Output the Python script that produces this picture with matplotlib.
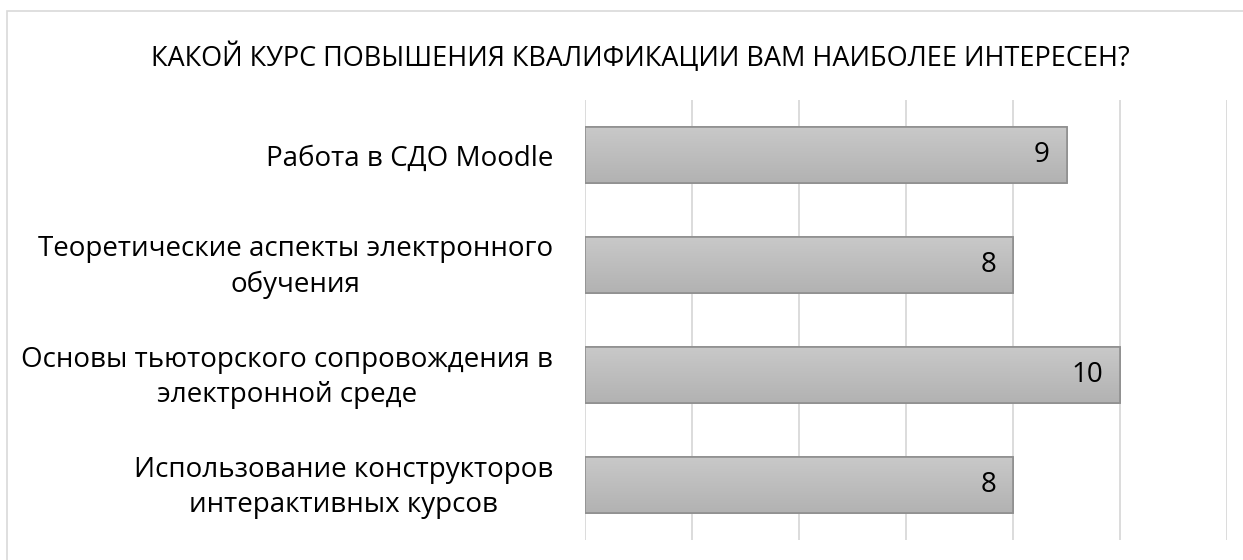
import matplotlib.pyplot as plt
import numpy as np
from matplotlib.patches import Rectangle

plt.rcParams['font.family'] = ['Open Sans', 'DejaVu Sans']

title = 'КАКОЙ КУРС ПОВЫШЕНИЯ КВАЛИФИКАЦИИ ВАМ НАИБОЛЕЕ ИНТЕРЕСЕН?'
courses = ['Работа в СДО Moodle',
           'Теоретические аспекты электронного\nобучения',
           'Основы тьюторского сопровождения в\nэлектронной среде',
           'Использование конструкторов\nинтерактивных курсов']
votes = [9, 8, 10, 8]

W, H = 1243, 560
fig = plt.figure(figsize=(W / 100, H / 100), dpi=100)
ax = fig.add_axes([585 / W, 1 - 540 / H, (1227 - 585) / W, 440 / H])

# outer chart border
fig.patches.append(Rectangle((7 / W, -0.01), 1.05, 1 - 11 / H + 0.01,
                             transform=fig.transFigure, fill=False,
                             edgecolor='#d9d9d9', linewidth=1.2))

y = np.arange(len(courses))
bars = ax.barh(y, votes, height=0.51, color='#bebebe', edgecolor='#8f8f8f',
               linewidth=1.2, zorder=3)

# vertical gradient inside each bar
cm = plt.matplotlib.colors.LinearSegmentedColormap.from_list('g', ['#c9c9c9', '#b2b2b2'])
grad = np.linspace(0, 1, 100).reshape(-1, 1)
for b in bars:
    x0, y0 = b.get_x(), b.get_y()
    im = ax.imshow(grad, cmap=cm, aspect='auto',
                   extent=(x0, x0 + b.get_width(), y0 + b.get_height(), y0), zorder=3.5)
    im.set_clip_path(b)
    ax.add_patch(Rectangle((x0, y0), b.get_width(), b.get_height(), fill=False,
                           edgecolor='#8f8f8f', linewidth=1.2, zorder=4))

for yi, v in zip(y, votes):
    ax.annotate(str(v), (v, yi), xytext=(-12, 0), textcoords='offset points',
                ha='right', va='center', fontsize=20, color='#000000', zorder=5)

# category labels (multi-line ones nudged up a little)
for yi, lab in zip(y, courses):
    dy = 3.5 if '\n' in lab else 0
    ax.annotate(lab, (0, yi), xytext=(-23, dy), textcoords='offset points',
                ha='right', va='center_baseline', multialignment='center',
                linespacing=1.35, fontsize=20, color='#000000',
                annotation_clip=False)

ax.set_xlim(0, 12)
ax.set_ylim(len(courses) - 0.5, -0.5)
ax.set_xticks(np.arange(0, 13, 2))
ax.set_xticklabels([])
ax.set_yticks([])
ax.tick_params(length=0)
ax.grid(axis='x', color='#d9d9d9', linewidth=1.3, zorder=0)
for s in ax.spines.values():
    s.set_visible(False)

fig.text(640 / W, 1 - 58 / H, title, ha='center', va='center', fontsize=19.5,
         color='#000000')

fig.savefig('out.png', dpi=100)
